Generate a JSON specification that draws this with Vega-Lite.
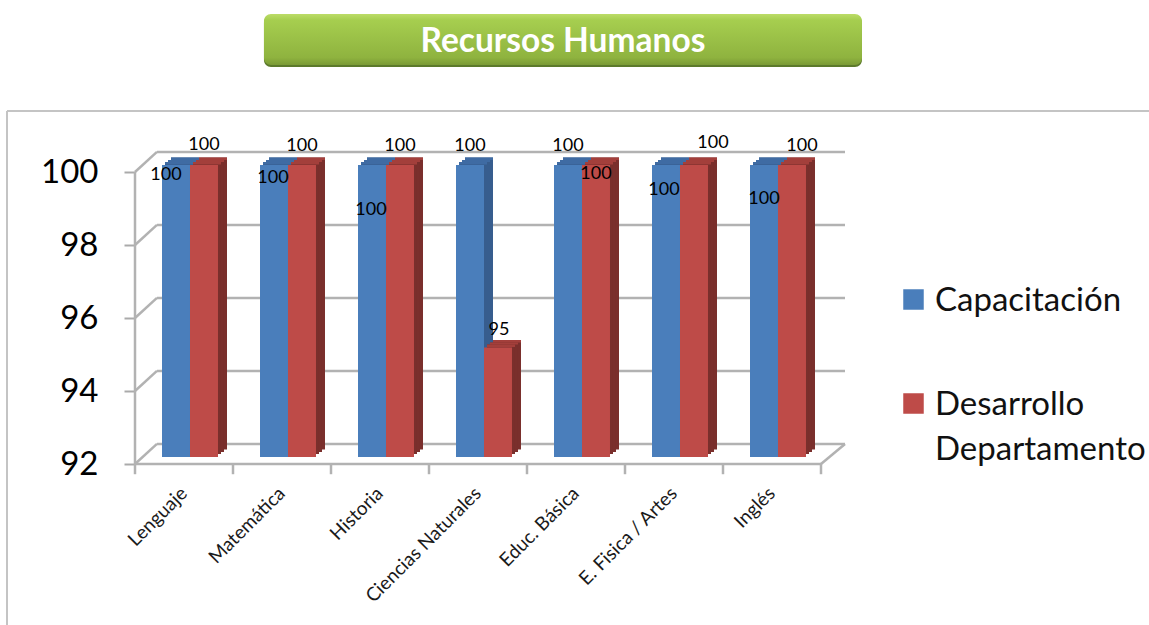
{
"$schema":"https://vega.github.io/schema/vega-lite/v6.json",
"width":686,"height":292,
"autosize":{"type":"none"},
"padding":{"left":135,"top":172,"right":328,"bottom":161},
"background":"white",
"config":{"view":{"stroke":null},"font":"Lato","text":{"font":"Lato"}},
"datasets":{
"bars":[
{"cat":"Lenguaje","series":"Capacitación","value":100,"lx":0.316,"ly":99.97},
{"cat":"Lenguaje","series":"Desarrollo Departamento","value":100,"lx":0.704,"ly":100.79},
{"cat":"Matemática","series":"Capacitación","value":100,"lx":1.408,"ly":99.89},
{"cat":"Matemática","series":"Desarrollo Departamento","value":100,"lx":1.704,"ly":100.77},
{"cat":"Historia","series":"Capacitación","value":100,"lx":2.408,"ly":99.01},
{"cat":"Historia","series":"Desarrollo Departamento","value":100,"lx":2.704,"ly":100.77},
{"cat":"Ciencias Naturales","series":"Capacitación","value":100,"lx":3.418,"ly":100.77},
{"cat":"Ciencias Naturales","series":"Desarrollo Departamento","value":95,"lx":3.714,"ly":95.73},
{"cat":"Educ. Básica","series":"Capacitación","value":100,"lx":4.418,"ly":100.77},
{"cat":"Educ. Básica","series":"Desarrollo Departamento","value":100,"lx":4.704,"ly":100},
{"cat":"E. Fisica / Artes","series":"Capacitación","value":100,"lx":5.398,"ly":99.56},
{"cat":"E. Fisica / Artes","series":"Desarrollo Departamento","value":100,"lx":5.898,"ly":100.85},
{"cat":"Inglés","series":"Capacitación","value":100,"lx":6.418,"ly":99.32},
{"cat":"Inglés","series":"Desarrollo Departamento","value":100,"lx":6.806,"ly":100.77}
],
"frame":[
{"a":0.224,"b":7.245,"c":100.55,"d":100.55},
{"a":0.224,"b":7.245,"c":98.55,"d":98.55},
{"a":0.224,"b":7.245,"c":96.55,"d":96.55},
{"a":0.224,"b":7.245,"c":94.55,"d":94.55},
{"a":0.224,"b":7.245,"c":92.55,"d":92.55},
{"a":0,"b":0.224,"c":100,"d":100.55},
{"a":0,"b":0.224,"c":98,"d":98.55},
{"a":0,"b":0.224,"c":96,"d":96.55},
{"a":0,"b":0.224,"c":94,"d":94.55},
{"a":0,"b":0.224,"c":92,"d":92.55},
{"a":7,"b":7.245,"c":92,"d":92.55},
{"a":0,"b":0,"c":92,"d":100},
{"a":0,"b":7,"c":92,"d":92},
{"a":0,"b":0,"c":92,"d":91.72},
{"a":1,"b":1,"c":92,"d":91.72},
{"a":2,"b":2,"c":92,"d":91.72},
{"a":3,"b":3,"c":92,"d":91.72},
{"a":4,"b":4,"c":92,"d":91.72},
{"a":5,"b":5,"c":92,"d":91.72},
{"a":6,"b":6,"c":92,"d":91.72},
{"a":7,"b":7,"c":92,"d":91.72}
],
"outer":[
{"a":-1.306,"b":10.4,"c":101.67,"d":101.67},
{"a":-1.306,"b":-1.306,"c":101.67,"d":87.5}
],
"banner":[{"label":"Recursos Humanos","a":1.316,"b":7.418,"c":104.33,"d":102.93,"lx":4.367,"ly":103.55}]
},
"resolve":{"scale":{"x":"independent","color":"independent"}},
"layer":[
{"data":{"name":"outer"},"mark":{"type":"rule","stroke":"#c4c4c4","strokeWidth":2,"clip":false},
 "encoding":{"x":{"field":"a","type":"quantitative","scale":{"domain":[0,7],"nice":false,"zero":false},"axis":null},"x2":{"field":"b"},
 "y":{"field":"c","type":"quantitative","scale":{"domain":[92,100],"nice":false,"zero":false},
  "axis":{"values":[92,94,96,98,100],"title":null,"domain":false,"grid":false,"tickSize":11,"tickColor":"#aaaaaa","tickWidth":2,"labelFontSize":33,"labelColor":"#000000","labelPadding":26,"labelFont":"Lato"}},"y2":{"field":"d"}}},
{"data":{"name":"frame"},"mark":{"type":"rule","stroke":"#b2b2b2","strokeWidth":2.5,"clip":false},
 "encoding":{"x":{"field":"a","type":"quantitative","scale":{"domain":[0,7],"nice":false,"zero":false},"axis":null},"x2":{"field":"b"},
 "y":{"field":"c","type":"quantitative"},"y2":{"field":"d"}}},

{"data":{"name":"bars"},"mark":{"type":"bar","yOffset":-14.5,"y2Offset":-14.5,"width":28},
 "encoding":{"x":{"field":"cat","type":"nominal","sort":null,"scale":{"range":[15,701],"paddingInner":0.4286,"paddingOuter":0.2143},"axis":null},"xOffset":{"field":"series","scale":{"padding":0,"paddingInner":0,"paddingOuter":0}},
 "y":{"field":"value","type":"quantitative"},"y2":{"datum":92},
 "color":{"field":"series","scale":{"range":["#375d8e","#7a2f2c"]},"legend":null}}},
{"data":{"name":"bars"},"mark":{"type":"bar","yOffset":-12,"y2Offset":-12,"width":28},
 "encoding":{"x":{"field":"cat","type":"nominal","sort":null,"scale":{"range":[12,698],"paddingInner":0.4286,"paddingOuter":0.2143},"axis":null},"xOffset":{"field":"series","scale":{"padding":0,"paddingInner":0,"paddingOuter":0}},
 "y":{"field":"value","type":"quantitative"},"y2":{"datum":92},
 "color":{"field":"series","scale":{"range":["#375d8e","#7a2f2c"]},"legend":null}}},
{"data":{"name":"bars"},"mark":{"type":"bar","yOffset":-10,"y2Offset":-10,"width":28},
 "encoding":{"x":{"field":"cat","type":"nominal","sort":null,"scale":{"range":[9,695],"paddingInner":0.4286,"paddingOuter":0.2143},"axis":null},"xOffset":{"field":"series","scale":{"padding":0,"paddingInner":0,"paddingOuter":0}},
 "y":{"field":"value","type":"quantitative"},"y2":{"datum":92},
 "color":{"field":"series","scale":{"range":["#375d8e","#7a2f2c"]},"legend":null}}},

{"data":{"name":"bars"},"mark":{"type":"bar","yOffset":-14.5,"y2Offset":-12,"width":28},
 "encoding":{"x":{"field":"cat","type":"nominal","sort":null,"scale":{"range":[15,701],"paddingInner":0.4286,"paddingOuter":0.2143},"axis":null},"xOffset":{"field":"series","scale":{"padding":0,"paddingInner":0,"paddingOuter":0}},
 "y":{"field":"value","type":"quantitative"},"y2":{"field":"value"},
 "color":{"field":"series","scale":{"range":["#3f6ba3","#a33f3b"]},"legend":null}}},
{"data":{"name":"bars"},"mark":{"type":"bar","yOffset":-12,"y2Offset":-10,"width":28},
 "encoding":{"x":{"field":"cat","type":"nominal","sort":null,"scale":{"range":[12,698],"paddingInner":0.4286,"paddingOuter":0.2143},"axis":null},"xOffset":{"field":"series","scale":{"padding":0,"paddingInner":0,"paddingOuter":0}},
 "y":{"field":"value","type":"quantitative"},"y2":{"field":"value"},
 "color":{"field":"series","scale":{"range":["#3f6ba3","#a33f3b"]},"legend":null}}},
{"data":{"name":"bars"},"mark":{"type":"bar","yOffset":-10,"y2Offset":-7.5,"width":28},
 "encoding":{"x":{"field":"cat","type":"nominal","sort":null,"scale":{"range":[9,695],"paddingInner":0.4286,"paddingOuter":0.2143},"axis":null},"xOffset":{"field":"series","scale":{"padding":0,"paddingInner":0,"paddingOuter":0}},
 "y":{"field":"value","type":"quantitative"},"y2":{"field":"value"},
 "color":{"field":"series","scale":{"range":["#3f6ba3","#a33f3b"]},"legend":null}}},

{"data":{"name":"bars"},"mark":{"type":"bar","yOffset":-7,"y2Offset":-7,"width":28},
 "encoding":{"x":{"field":"cat","type":"nominal","sort":null,"scale":{"range":[6,692],"paddingInner":0.4286,"paddingOuter":0.2143},
   "axis":{"title":null,"domain":false,"ticks":false,"labelAngle":-45,"labelAlign":"right","labelBaseline":"middle","labelFontSize":19,"labelColor":"#1a1a1a","labelPadding":26,"labelOffset":-6,"labelLimit":0,"labelFont":"Lato"}},
 "xOffset":{"field":"series","scale":{"padding":0,"paddingInner":0,"paddingOuter":0}},
 "y":{"field":"value","type":"quantitative"},"y2":{"datum":92},
 "color":{"field":"series","scale":{"range":["#4a7ebb","#be4b48"]},
  "legend":{"orient":"none","legendX":762,"legendY":111,"title":null,"symbolType":"square","symbolSize":420,"symbolStrokeWidth":0,"labelFontSize":33,"labelColor":"#111111","labelFont":"Lato","labelOffset":5,"labelLimit":0,"rowPadding":69,"labelBaseline":"alphabetic","labelExpr":"split(datum.label,' ')","encode":{"labels":{"update":{"lineHeight":{"value":45},"dy":{"value":11}}}}}}}},

{"data":{"name":"bars"},"mark":{"type":"text","fontSize":18,"dy":2,"color":"#000000","clip":false},
 "encoding":{"x":{"field":"lx","type":"quantitative","scale":{"domain":[0,7],"nice":false,"zero":false},"axis":null},
 "y":{"field":"ly","type":"quantitative"},"text":{"field":"value","type":"quantitative"}}},

{"data":{"name":"banner"},"mark":{"type":"bar","cornerRadius":7,"fill":"#5c7a2b","yOffset":2,"y2Offset":2,"clip":false},
 "encoding":{"x":{"field":"a","type":"quantitative","scale":{"domain":[0,7],"nice":false,"zero":false},"axis":null},"x2":{"field":"b"},
 "y":{"field":"c","type":"quantitative"},"y2":{"field":"d"}}},
{"data":{"name":"banner"},"mark":{"type":"bar","cornerRadius":7,"clip":false,"fill":{"gradient":"linear","x1":0,"y1":0,"x2":0,"y2":1,"stops":[{"offset":0,"color":"#bcdc68"},{"offset":0.12,"color":"#a6ce4f"},{"offset":0.85,"color":"#8fb33f"},{"offset":1,"color":"#7a9a35"}]}},
 "encoding":{"x":{"field":"a","type":"quantitative","scale":{"domain":[0,7],"nice":false,"zero":false},"axis":null},"x2":{"field":"b"},
 "y":{"field":"c","type":"quantitative"},"y2":{"field":"d"}}},
{"data":{"name":"banner"},"mark":{"type":"text","fontSize":33.5,"fontWeight":"bold","color":"#ffffff","clip":false},
 "encoding":{"x":{"field":"lx","type":"quantitative","scale":{"domain":[0,7],"nice":false,"zero":false},"axis":null},
 "y":{"field":"ly","type":"quantitative"},"text":{"field":"label","type":"nominal"}}}
]
}
